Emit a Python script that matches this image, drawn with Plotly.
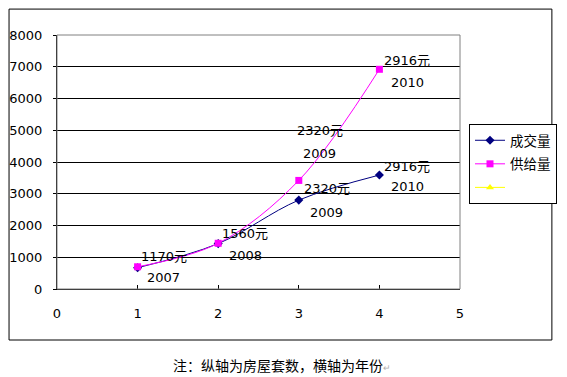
import plotly.graph_objects as go

x_vals = [1, 2, 3, 4]
deal_vals = [670, 1430, 2800, 3590]      # 成交量
supply_vals = [700, 1440, 3420, 6920]    # 供给量
price_labels = ["1170元", "1560元", "2320元", "2916元"]
year_labels = ["2007", "2008", "2009", "2010"]
series_names = ["成交量", "供给量", " "]

FONT = "DejaVu Sans, Noto Sans CJK SC, sans-serif"

fig = go.Figure()
fig.add_trace(go.Scatter(x=x_vals, y=deal_vals, name=series_names[0], mode="lines+markers",
                         legendgroup="a",
                         line=dict(color="#000080", width=1, shape="spline"),
                         marker=dict(symbol="diamond", size=7, color="#000080")))
fig.add_trace(go.Scatter(x=x_vals, y=supply_vals, name=series_names[1], mode="lines+markers",
                         legendgroup="b",
                         line=dict(color="#FF00FF", width=1, shape="spline"),
                         marker=dict(symbol="square", size=7, color="#FF00FF")))
fig.add_trace(go.Scatter(x=[None], y=[None], name=series_names[2], mode="lines+markers",
                         legendgroup="c",
                         line=dict(color="#FFFF00", width=1),
                         marker=dict(symbol="triangle-up", size=7, color="#FFFF00")))

# data labels (price / year) for 成交量
deal_shift = [(26, 11, -10), (27, 10, -12), (28, 12, -12), (28, 9, -11)]
for i, (xs, y1, y2) in enumerate(deal_shift):
    fig.add_annotation(x=x_vals[i], y=deal_vals[i], text=price_labels[i], showarrow=False,
                       xshift=xs, yshift=y1, font=dict(size=13, color="black", family=FONT))
    fig.add_annotation(x=x_vals[i], y=deal_vals[i], text=year_labels[i], showarrow=False,
                       xshift=xs, yshift=y2, font=dict(size=13, color="black", family=FONT))
# data labels for 供给量 (2009, 2010)
supply_shift = {2: (21, 50, 27), 3: (28, 9, -13)}
for i, (xs, y1, y2) in supply_shift.items():
    fig.add_annotation(x=x_vals[i], y=supply_vals[i], text=price_labels[i], showarrow=False,
                       xshift=xs, yshift=y1, font=dict(size=13, color="black", family=FONT))
    fig.add_annotation(x=x_vals[i], y=supply_vals[i], text=year_labels[i], showarrow=False,
                       xshift=xs, yshift=y2, font=dict(size=13, color="black", family=FONT))

# caption
fig.add_annotation(xref="paper", yref="paper", x=0.558, y=-0.299, xanchor="center", yanchor="middle",
                   showarrow=False,
                   text='注：纵轴为房屋套数，横轴为年份<span style="color:#b0b0b0;font-size:9px">↵</span>',
                   font=dict(size=14, color="black", family="Noto Sans CJK SC"))

# plot area border (gray) and outer chart border
fig.add_shape(type="rect", xref="paper", yref="paper", x0=0, x1=1, y0=0, y1=1,
              line=dict(color="#808080", width=1), layer="above")
fig.add_shape(type="rect", xref="paper", yref="paper", x0=-0.119, x1=1.228, y0=-0.2008, y1=1.102,
              line=dict(color="black", width=1))

W, H = 559, 369
fig.update_layout(
    width=W, height=H,
    margin=dict(l=49, r=107, t=27, b=88, autoexpand=False),
    paper_bgcolor="white", plot_bgcolor="white",
    font=dict(family=FONT, size=13, color="black"),
    showlegend=True,
    legend=dict(xref="container", yref="container", x=461 / W, y=1 - 116 / H,
                xanchor="left", yanchor="top",
                bordercolor="black", borderwidth=1, bgcolor="white",
                font=dict(size=13.5, family="Noto Sans CJK SC", color="black"),
                itemwidth=30, tracegroupgap=3, traceorder="grouped"),
    xaxis=dict(range=[0, 5], dtick=1, tick0=0, showgrid=False, zeroline=False,
               showline=True, linecolor="black", linewidth=1,
               ticks="inside", ticklen=4, tickcolor="black",
               ticklabelstandoff=12, tickfont=dict(size=13, family=FONT)),
    yaxis=dict(range=[0, 8000], dtick=1000, tick0=0, showgrid=True, gridcolor="black", gridwidth=1,
               zeroline=False, showline=True, linecolor="black", linewidth=1,
               ticks="outside", ticklen=3, tickcolor="black",
               ticklabelstandoff=8, tickfont=dict(size=13, family=FONT)),
)

fig.write_html("out.html")
